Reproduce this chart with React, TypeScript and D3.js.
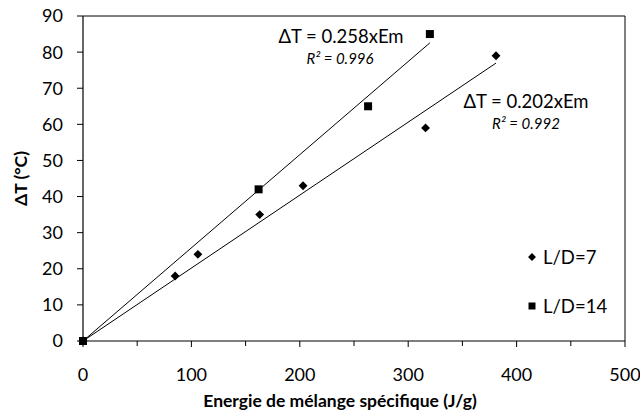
import React from "react";
import * as d3 from "d3";

const ld7X = [0, 85, 106, 163, 203, 316, 381];
const ld7Y = [0, 18, 24, 35, 43, 59, 79];
const ld14X = [0, 162, 263, 320];
const ld14Y = [0, 42, 65, 85];
const slopes = [0.202, 0.258];
const eqLabels = ["ΔT = 0.202xEm", "ΔT = 0.258xEm"];
const r2Labels = ["R² = 0.992", "R² = 0.996"];
const xTicks = [0, 100, 200, 300, 400, 500];
const yTicks = [0, 10, 20, 30, 40, 50, 60, 70, 80, 90];
const legendLabels = ["L/D=7", "L/D=14"];

const W = 640, H = 414;
const m = { left: 83, right: 15, top: 16, bottom: 73 };
const FONT = "Lato, 'Open Sans', sans-serif";

export default function App() {
  const x = d3.scaleLinear().domain([0, 500]).range([m.left, W - m.right]);
  const y = d3.scaleLinear().domain([0, 90]).range([H - m.bottom, m.top]);
  const diamond = d3.symbol().type(d3.symbolDiamond2).size(50)();
  const square = d3.symbol().type(d3.symbolSquare).size(64)();
  const minor = d3.range(50, 500, 100);
  const x7max = d3.max(ld7X) as number;
  const x14max = d3.max(ld14X) as number;
  const line = d3.line<[number, number]>().x(d => x(d[0])).y(d => y(d[1]));

  return (
    <svg width={W} height={H} style={{ position: "absolute", left: 0, top: 0, background: "#fff" }} fontFamily={FONT}>
      {/* plot border */}
      <line x1={x(0)} x2={x(500)} y1={y(90)} y2={y(90)} stroke="#000" strokeWidth={1} />
      <line x1={x(500)} x2={x(500)} y1={y(90)} y2={y(0)} stroke="#000" strokeWidth={1} />
      {/* axes */}
      <line x1={x(0)} x2={x(500)} y1={y(0)} y2={y(0)} stroke="#000" strokeWidth={1.2} />
      <line x1={x(0)} x2={x(0)} y1={y(90)} y2={y(0)} stroke="#000" strokeWidth={1.2} />
      {yTicks.map(t => (
        <g key={"y" + t}>
          <line x1={x(0) - 6} x2={x(0)} y1={y(t)} y2={y(t)} stroke="#000" />
          <text x={x(0) - 20} y={y(t)} dy="0.36em" textAnchor="end" fontSize={18}>{t}</text>
        </g>
      ))}
      {xTicks.map(t => (
        <g key={"x" + t}>
          <line x1={x(t)} x2={x(t)} y1={y(0)} y2={y(0) + 6} stroke="#000" />
          <text x={x(t)} y={y(0) + 40} textAnchor="middle" fontSize={18}>{t}</text>
        </g>
      ))}
      {minor.map(t => (
        <line key={"m" + t} x1={x(t)} x2={x(t)} y1={y(0)} y2={y(0) + 5} stroke="#000" />
      ))}
      {/* trendlines */}
      <path d={line([[0, 0], [x7max, slopes[0] * x7max]]) as string} stroke="#000" strokeWidth={1} fill="none" />
      <path d={line([[0, 0], [x14max, slopes[1] * x14max]]) as string} stroke="#000" strokeWidth={1} fill="none" />
      {/* points */}
      {ld7X.map((v, i) => (
        <path key={"d" + i} d={diamond} transform={`translate(${x(v)},${y(ld7Y[i])})`} fill="#000" />
      ))}
      {ld14X.map((v, i) => (
        <path key={"s" + i} d={square} transform={`translate(${x(v)},${y(ld14Y[i])})`} fill="#000" />
      ))}
      {/* equations */}
      <text x={341} y={43} textAnchor="middle" fontSize={18.5}>{eqLabels[1]}</text>
      <text x={340} y={64} textAnchor="middle" fontSize={15} fontStyle="italic">{r2Labels[1]}</text>
      <text x={526} y={108} textAnchor="middle" fontSize={18.5}>{eqLabels[0]}</text>
      <text x={526} y={129} textAnchor="middle" fontSize={15} fontStyle="italic">{r2Labels[0]}</text>
      {/* legend */}
      <path d={d3.symbol().type(d3.symbolDiamond2).size(40)() as string} transform={`translate(532,257)`} fill="#000" />
      <text x={543} y={257} dy="0.36em" fontSize={18.5}>{legendLabels[0]}</text>
      <path d={d3.symbol().type(d3.symbolSquare).size(49)() as string} transform={`translate(532,306)`} fill="#000" />
      <text x={543} y={306} dy="0.36em" fontSize={18.5}>{legendLabels[1]}</text>
      {/* axis titles */}
      <text x={x(250) - 14} y={407} textAnchor="middle" fontSize={17.5} fontWeight="bold">Energie de mélange spécifique (J/g)</text>
      <text transform={`translate(27,${y(45)}) rotate(-90)`} textAnchor="middle" fontSize={17.5} fontWeight="bold">ΔT (°C)</text>
    </svg>
  );
}
